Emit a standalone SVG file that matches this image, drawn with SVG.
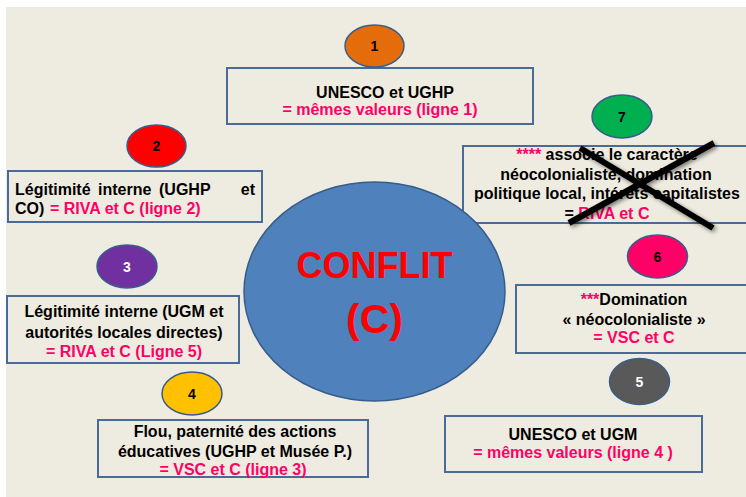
<svg xmlns="http://www.w3.org/2000/svg" width="746" height="497" viewBox="0 0 746 497">
<defs>
<style>
.box{fill:#EEECE1;stroke:#4A6B98;stroke-width:2}
.num{stroke:#385D8A;stroke-width:1.5}
text{font-family:"Liberation Sans",Arial,sans-serif;font-weight:bold;font-size:16px;fill:#000}
.c{text-anchor:middle}
.p{fill:#FF0066}
.n{font-size:14px;text-anchor:middle}
.w{fill:#fff}
.x{stroke:#000;stroke-width:6;stroke-linecap:butt}
</style>
<filter id="sh" x="-20%" y="-20%" width="140%" height="140%">
<feGaussianBlur in="SourceAlpha" stdDeviation="2"/>
<feOffset dx="2" dy="2" result="b"/>
<feComponentTransfer><feFuncA type="linear" slope="0.5"/></feComponentTransfer>
<feMerge><feMergeNode/><feMergeNode in="SourceGraphic"/></feMerge>
</filter>
</defs>
<rect width="746" height="497" fill="#fff"/>
<rect x="6" y="7" width="740" height="490" fill="#EEECE1"/>

<g id="node1">
<rect class="box" x="227" y="68" width="306" height="56"/>
<text class="c" x="385" y="98">UNESCO et UGHP</text>
<text class="c p" x="380" y="115">= mêmes valeurs (ligne 1)</text>
<ellipse class="num" cx="374.5" cy="46" rx="29.5" ry="21" fill="#E46C0A"/>
<text class="n" x="374.5" y="51">1</text>
</g>

<g id="node2">
<rect class="box" x="8" y="171" width="254" height="51"/>
<text x="15" y="195">Légitimité</text>
<text x="98" y="195">interne</text>
<text x="159" y="195">(UGHP</text>
<text x="255" y="195" text-anchor="end">et</text>
<text x="15" y="214">CO)<tspan class="p" x="50">= RIVA et C (ligne 2)</tspan></text>
<ellipse class="num" cx="156.5" cy="146" rx="29.5" ry="21" fill="#FF0000"/>
<text class="n" x="156.5" y="151">2</text>
</g>

<g id="node3">
<rect class="box" x="7" y="296" width="232" height="67"/>
<text class="c" x="124" y="317">Légitimité interne (UGM et</text>
<text class="c" x="124" y="338">autorités locales directes)</text>
<text class="c p" x="124" y="357">= RIVA et C (Ligne 5)</text>
<ellipse class="num" cx="127" cy="266.5" rx="30" ry="21.5" fill="#7030A0"/>
<text class="n w" x="127" y="271.5">3</text>
</g>

<g id="node4">
<rect class="box" x="98" y="420" width="270" height="57"/>
<text class="c" x="235" y="437">Flou, paternité des actions</text>
<text class="c" x="235" y="457">éducatives (UGHP et Musée P.)</text>
<text class="c p" x="233" y="475">= VSC et C (ligne 3)</text>
<ellipse class="num" cx="192" cy="393.5" rx="30" ry="21.5" fill="#FFC000"/>
<text class="n" x="192" y="398.5">4</text>
</g>

<g id="node7">
<rect class="box" x="463" y="146" width="290" height="77"/>
<text class="c" x="607" y="160"><tspan class="p">****</tspan> associe le caractère</text>
<text class="c" x="606" y="180">néocolonialiste, domination</text>
<text class="c" x="607" y="199">politique local, intérêts capitalistes</text>
<text class="c" x="607" y="219">= <tspan class="p">RIVA et C</tspan></text>
<ellipse class="num" cx="622" cy="116.5" rx="30" ry="21.5" fill="#00B050"/>
<text class="n" x="622" y="121.5">7</text>
</g>

<g id="node6">
<rect class="box" x="516" y="285" width="237" height="68"/>
<text class="c" x="634" y="305"><tspan class="p">***</tspan>Domination</text>
<text class="c" x="634" y="325">« néocolonialiste »</text>
<text class="c p" x="634" y="343">= VSC et C</text>
<ellipse class="num" cx="657.5" cy="256.5" rx="30" ry="21.5" fill="#FF0066"/>
<text class="n" x="657.5" y="261.5">6</text>
</g>

<g id="node5">
<rect class="box" x="445" y="416" width="257" height="56"/>
<text class="c" x="573" y="440">UNESCO et UGM</text>
<text class="c p" x="573" y="458">= mêmes valeurs (ligne 4 )</text>
<ellipse class="num" cx="639.5" cy="381.5" rx="30" ry="23" fill="#595959"/>
<text class="n w" x="639.5" y="386.5">5</text>
</g>

<g id="conflit">
<ellipse cx="374.5" cy="291.5" rx="130.5" ry="109.5" fill="#4F81BD" stroke="#385D8A" stroke-width="1.5"/>
<text class="c" x="374.5" y="278" style="font-size:36px;fill:#FF0000">CONFLIT</text>
<text class="c" x="374.5" y="333" style="font-size:41px;fill:#FF0000">(C)</text>
</g>

<g id="connectors">
<g id="cross" filter="url(#sh)">
<line class="x" x1="580" y1="148" x2="713" y2="228"/>
<line class="x" x1="714" y1="143" x2="569" y2="223"/>
</g>
</g>
</svg>
